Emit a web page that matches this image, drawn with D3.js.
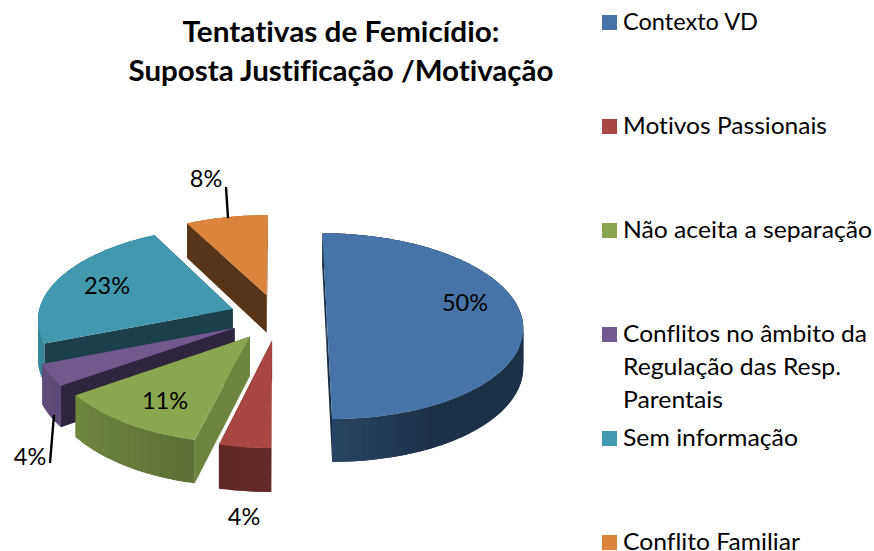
<!DOCTYPE html>
<html><head><meta charset="utf-8">
<script src="https://cdnjs.cloudflare.com/ajax/libs/d3/7.8.5/d3.min.js"></script>
<style>html,body{margin:0;padding:0;background:#fff;overflow:hidden}svg{display:block}text{font-family:Lato,"Open Sans",sans-serif;fill:#000;font-variant-ligatures:none}</style>
</head><body><svg id="c" width="874" height="551"></svg>
<script>
const titleLines = ["Tentativas de Femicídio:", "Suposta Justificação /Motivação"];
const categories = ["Contexto VD", "Motivos Passionais", "Não aceita a separação", "Conflitos no âmbito da Regulação das Resp. Parentais", "Sem informação", "Conflito Familiar"];
const legendLines = [["Contexto VD"], ["Motivos Passionais"], ["Não aceita a separação"], ["Conflitos no âmbito da", "Regulação das Resp.", "Parentais"], ["Sem informação"], ["Conflito Familiar"]];
const values = [50, 3.8, 11.4, 3.8, 23.4, 7.6];
const colors = ["#4674A8", "#A84644", "#8AA64F", "#71588F", "#4198AF", "#DB843D"];

// layout constants
const view = {cx: 278, cy: 317, R: 195, A: 92, k: 0.099, depth: 38.5, explode: 0.25};
const titleWidths = [317, 425];
const legendWidths = [[135], [204], [249], [244, 218, 100], [175], [177]];
const startWallShade = [0.4, 0.55, 0.8, 0.42, 0.42, 0.4];
const endWallShade = [0.4, 0.5, 0.5, 0.6, 0.5, 0.5];
const labelAt = [[465, 311], [244, 525], [165, 409], [30, 465], [107, 294], [206, 187]];
const leaderLines = [[[226,187],[228,218]], [[54,415],[50,463]]];

const outerShade = d3.scaleLinear()
  .domain([90, 150, 180, 194.4, 194.5, 234, 250, 360])
  .range([0.42, 0.42, 0.6, 0.55, 0.68, 0.82, 0.88, 0.88]).clamp(true);

const svg = d3.select("#c");
const toDeg = 180 / Math.PI;
const pie = d3.pie().sort(null).value(d => d)(values);

function project(theta, r, mid, z) {
  const X = r * Math.sin(theta) + view.explode * Math.sin(mid);
  const Y = -r * Math.cos(theta) - view.explode * Math.cos(mid);
  const s = 1 / (1 - view.k * Y);
  return [view.cx + view.R * X * s, view.cy + view.A * Y * s + (z || 0) * view.depth * s];
}
const line = d3.line();
const closed = pts => line(pts) + "Z";
const shade = (c, f) => { const q = d3.rgb(c); return d3.rgb(q.r * f, q.g * f, q.b * f).formatHex(); };

const slices = pie.map((p, i) => ({...p, i, mid: (p.startAngle + p.endAngle) / 2}))
  .sort((a, b) => -Math.cos(a.mid) + Math.cos(b.mid));

const g = svg.append("g");
slices.forEach(p => {
  const {i, mid, startAngle: a0, endAngle: a1} = p;
  const col = colors[i];
  const wall = (t, f) => g.append("path")
    .attr("d", closed([project(t,0,mid,0), project(t,1,mid,0), project(t,1,mid,1), project(t,0,mid,1)]))
    .attr("fill", shade(col, f));
  wall(a1, endWallShade[i]);
  const n = Math.max(2, Math.round((a1 - a0) * toDeg / 2));
  const ts = d3.range(n + 1).map(j => a0 + (a1 - a0) * j / n);
  // outer wall: each strip overlaps the next so no seams show
  for (let j = n - 1; j >= 0; j--) {
    const t0 = ts[j], t1 = ts[Math.min(j + 2, n)];
    const mt = (ts[j] + ts[j + 1]) / 2;
    const arc = d3.range(0, 5).map(q => t0 + (t1 - t0) * q / 4);
    g.append("path")
      .attr("d", closed([...arc.map(t => project(t,1,mid,0)), ...arc.slice().reverse().map(t => project(t,1,mid,1))]))
      .attr("fill", shade(col, outerShade(mt * toDeg)));
  }
  wall(a0, startWallShade[i]);
  const top = [project(0,0,mid,0), ...ts.map(t => project(t,1,mid,0))];
  g.append("path").attr("d", closed(top)).attr("fill", col);
});

// leader lines
leaderLines.forEach(l => svg.append("path").attr("d", line(l)).attr("stroke", "#000").attr("stroke-width", 2.4).attr("fill", "none"));

// data labels
values.forEach((v, i) => {
  const [x, y] = labelAt[i];
  svg.append("text").attr("x", x).attr("y", y).attr("text-anchor", "middle").attr("font-size", 23.5).text(d3.format(".0f")(v) + "%");
});

// title
titleLines.forEach((t, i) => svg.append("text").attr("x", 341).attr("y", 42 + i * 39).attr("text-anchor", "middle")
  .attr("font-size", 28).attr("font-weight", 700)
  .attr("textLength", titleWidths[i]).attr("lengthAdjust", "spacingAndGlyphs").text(t));

// legend
const rowY = d3.scalePoint().domain(d3.range(categories.length)).range([30, 550]);
categories.forEach((c, i) => {
  svg.append("rect").attr("x", 602).attr("y", rowY(i) - 15).attr("width", 15).attr("height", 15).attr("fill", colors[i]);
  legendLines[i].forEach((t, j) => svg.append("text").attr("x", 623).attr("y", rowY(i) + j * 33)
    .attr("font-size", 24).attr("textLength", legendWidths[i][j]).attr("lengthAdjust", "spacingAndGlyphs").text(t));
});
</script></body></html>
